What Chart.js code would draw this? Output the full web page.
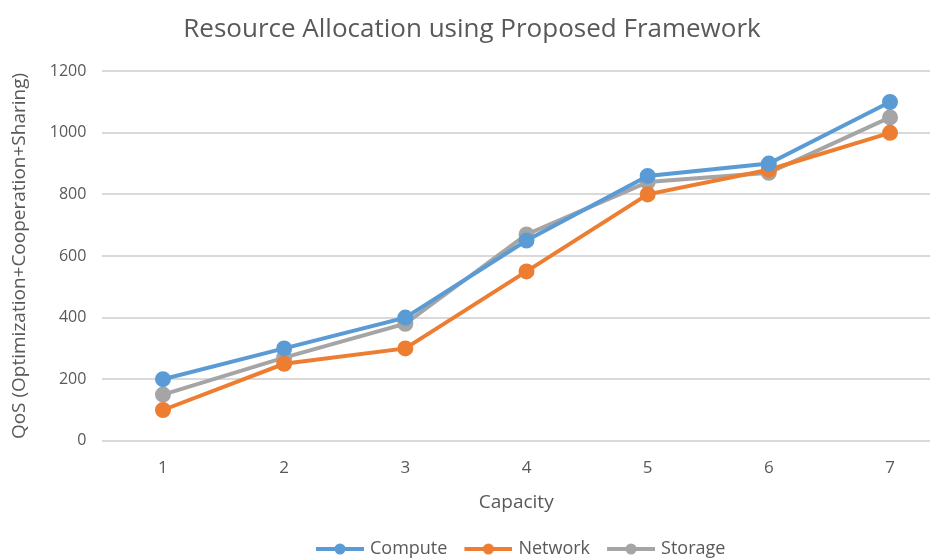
<!DOCTYPE html>
<html>
<head>
<meta charset="UTF-8">
<title>Resource Allocation using Proposed Framework</title>
<script src="https://cdn.jsdelivr.net/npm/chart.js"></script>
<style>
  body { margin:0; background:#fff; }
  #wrap { width:940px; height:558px; position:relative; }
</style>
</head>
<body>
<div id="wrap"><canvas id="c"></canvas></div>
<script>
// data
const capacity = [1, 2, 3, 4, 5, 6, 7];
const compute  = [200, 300, 400, 650, 860, 900, 1100];
const network  = [100, 250, 300, 550, 800, 880, 1000];
const storage  = [150, 270, 380, 670, 840, 870, 1050];
const seriesNames = ['Compute', 'Network', 'Storage'];
const colors = ['#5B9BD5', '#ED7D31', '#A5A5A5'];

const FONT = "'Open Sans', 'Liberation Sans', sans-serif";
const GREY = '#595959';

// legend marker: short line with a dot, left part kept empty as spacing
function legendMark(col) {
  const cv = document.createElement('canvas');
  cv.width = 60; cv.height = 14;
  const g = cv.getContext('2d');
  g.strokeStyle = col; g.lineWidth = 4;
  g.beginPath(); g.moveTo(12, 7); g.lineTo(60, 7); g.stroke();
  g.fillStyle = col;
  g.beginPath(); g.arc(36, 7, 5.5, 0, Math.PI * 2); g.fill();
  return cv;
}
const marks = colors.map(legendMark);

const toPts = arr => arr.map((v, i) => ({ x: capacity[i], y: v }));

new Chart(document.getElementById('c'), {
  type: 'line',
  data: {
    datasets: [compute, network, storage].map((arr, i) => ({
      label: seriesNames[i],
      data: toPts(arr),
      borderColor: colors[i],
      backgroundColor: colors[i],
      borderWidth: 4,
      pointRadius: 6,
      pointHoverRadius: 6,
      tension: 0
    }))
  },
  options: {
    responsive: true,
    maintainAspectRatio: false,
    animation: false,
    layout: { padding: { left: 4, right: 0, top: 6, bottom: -10 } },
    scales: {
      x: {
        type: 'linear',
        min: 0.5,
        max: 7.33,
        afterBuildTicks: s => { s.ticks = capacity.map(v => ({ value: v })); },
        grid: { display: false },
        border: { display: false },
        ticks: { color: GREY, font: { family: FONT, size: 17 }, padding: 9 },
        title: { display: true, text: 'Capacity', color: GREY, font: { family: FONT, size: 19 }, padding: { top: 4, bottom: 18 } }
      },
      y: {
        min: 0,
        max: 1200,
        ticks: { stepSize: 200, color: GREY, font: { family: FONT, size: 16 }, padding: 16, callback: v => String(v) },
        grid: { color: '#D9D9D9', lineWidth: 2, drawTicks: false },
        border: { display: false },
        title: { display: true, text: 'QoS (Optimization+Cooperation+Sharing)', color: GREY, font: { family: FONT, size: 19 }, padding: { bottom: 3 } }
      }
    },
    plugins: {
      title: {
        display: true,
        text: 'Resource Allocation using Proposed Framework',
        color: GREY,
        font: { family: FONT, size: 26, weight: 'normal' },
        padding: { top: 8, bottom: 26 }
      },
      legend: {
        position: 'bottom',
        fullSize: false,
        labels: {
          usePointStyle: true,
          pointStyleWidth: 54,
          color: GREY,
          font: { family: FONT, size: 18 },
          padding: 8,
          generateLabels: chart => chart.data.datasets.map((d, i) => ({
            text: d.label,
            pointStyle: marks[i],
            fillStyle: colors[i],
            strokeStyle: colors[i],
            fontColor: GREY,
            lineWidth: 0,
            datasetIndex: i
          }))
        }
      },
      tooltip: { enabled: false }
    }
  }
});
</script>
</body>
</html>
